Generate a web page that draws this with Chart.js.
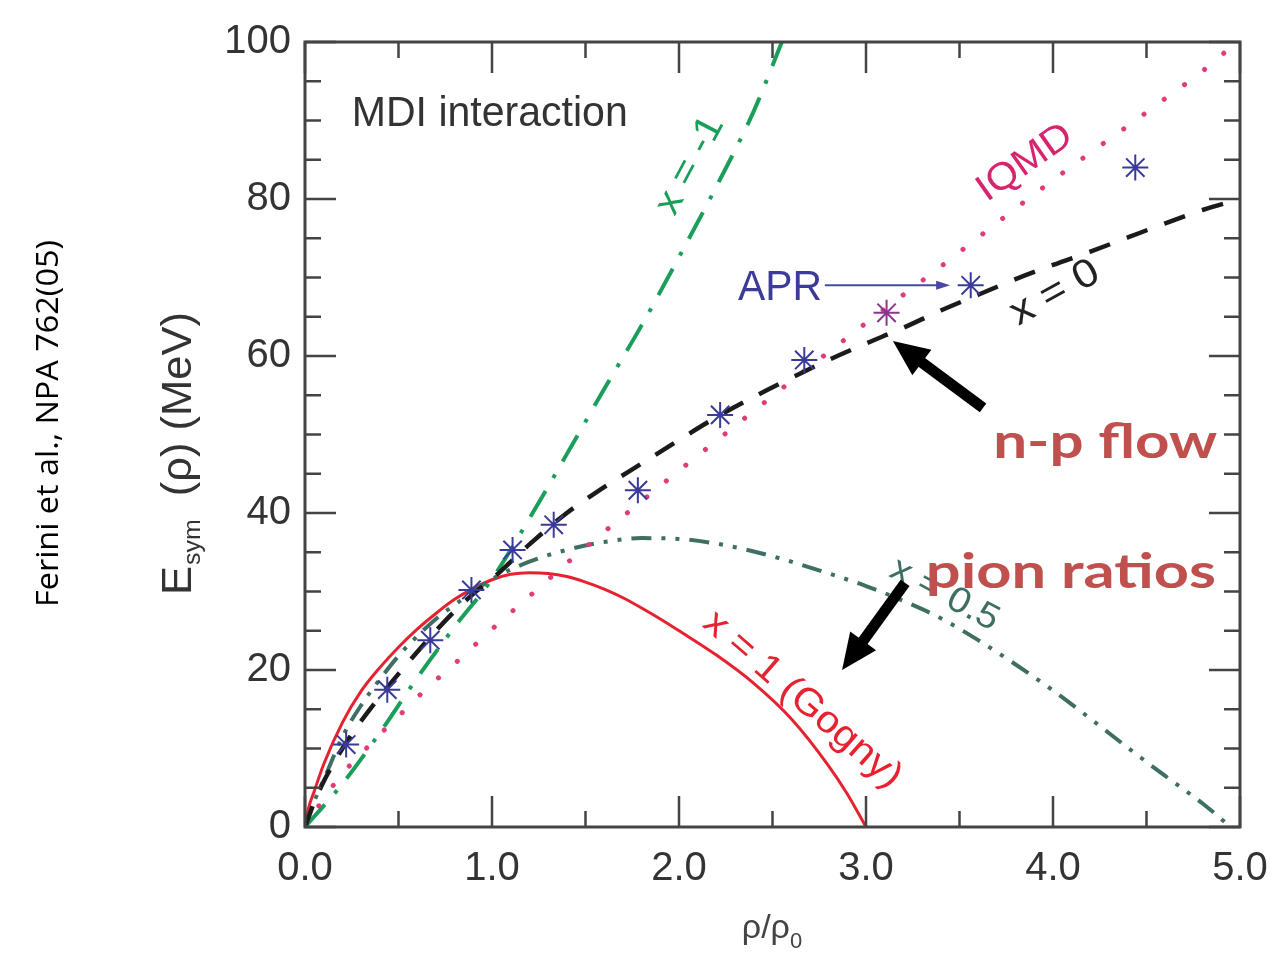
<!DOCTYPE html>
<html><head><meta charset="utf-8">
<script src="https://cdn.jsdelivr.net/npm/chart.js@4.4.1/dist/chart.umd.min.js"></script>
<style>html,body{margin:0;padding:0;background:#fff;overflow:hidden}canvas{display:block}</style>
</head><body>
<canvas id="c" width="1273" height="955"></canvas>
<script>
// ---- data ----
const xTickValues = [0, 1, 2, 3, 4, 5];
const yTickValues = [0, 20, 40, 60, 80, 100];

const xm1X = [0, 0.2, 0.4, 0.6, 0.8, 1.0, 1.2, 1.4, 1.6, 1.8, 2.0, 2.2, 2.4, 2.55];
const xm1Y = [0, 5.5, 12, 19, 25.5, 31.6, 39.3, 47.5, 55.8, 63.9, 72.6, 81.6, 91.2, 100];

const x0X = [0, 0.05, 0.1, 0.2, 0.3, 0.4, 0.5, 0.6, 0.7, 0.8, 0.9, 1.0, 1.2, 1.4, 1.6, 1.8, 2.0, 2.2, 2.4, 2.6, 2.8, 3.0, 3.2, 3.4, 3.6, 3.8, 4.0, 4.2, 4.4, 4.6, 4.8, 5.0];
const x0Y = [0, 3.2, 5.8, 10, 13.5, 16.6, 19.5, 22.3, 25, 27.5, 29.7, 31.6, 36, 40, 43.3, 46.3, 49.3, 52.2, 54.8, 57.2, 59.5, 61.6, 63.6, 65.8, 67.8, 69.8, 71.6, 73.3, 75.1, 76.9, 78.6, 80];

const xhX = [0, 0.05, 0.1, 0.2, 0.3, 0.4, 0.5, 0.6, 0.7, 0.8, 0.9, 1.0, 1.2, 1.4, 1.6, 1.8, 2.0, 2.2, 2.4, 2.6, 2.8, 3.0, 3.2, 3.4, 3.6, 3.8, 4.0, 4.2, 4.4, 4.6, 4.8, 4.95];
const xhY = [0, 3.3, 6, 11.5, 15.5, 18.8, 21.8, 24.3, 26.5, 28.3, 30, 31.6, 33.8, 35.3, 36.3, 36.8, 36.7, 36.1, 35.1, 33.8, 32.3, 30.7, 28.8, 26.6, 23.8, 20.7, 17.4, 13.8, 10.1, 6.5, 3, 0];

const gognyX = [0, 0.02, 0.05, 0.1, 0.2, 0.3, 0.4, 0.5, 0.6, 0.7, 0.8, 0.9, 1.0, 1.1, 1.2, 1.3, 1.4, 1.5, 1.6, 1.7, 1.8, 1.9, 2.0, 2.2, 2.4, 2.6, 2.8, 2.9, 3.0];
const gognyY = [0, 2.5, 4.6, 8, 13.3, 17.3, 20.3, 22.9, 25.2, 27.2, 29, 30.4, 31.5, 32.2, 32.4, 32.3, 31.9, 31.2, 30.3, 29.2, 27.9, 26.5, 25, 21.9, 18.3, 13.8, 7.8, 4.2, 0];

const iqmdX = [0, 0.1, 0.2, 0.3, 0.4, 0.5, 0.6, 0.7, 0.8, 0.9, 1.0, 1.2, 1.4, 1.6, 1.8, 2.0, 2.2, 2.4, 2.6, 2.8, 3.0, 3.2, 3.4, 3.6, 3.8, 4.0, 4.2, 4.4, 4.6, 4.8, 4.93];
const iqmdY = [0, 3.6, 6.8, 9.3, 11.8, 14.1, 16.5, 18.7, 20.8, 23.0, 25.2, 29.4, 33.6, 37.6, 41.5, 45.4, 49.2, 53.0, 56.8, 60.5, 64.2, 67.8, 71.4, 75.1, 78.8, 82.4, 85.9, 89.3, 92.8, 96.3, 98.9];

const aprX = [0.22, 0.44, 0.67, 0.89, 1.11, 1.33, 1.78, 2.22, 2.67, 3.11, 3.56, 4.44];
const aprY = [10.5, 17.5, 23.8, 30.2, 35.3, 38.5, 42.9, 52.5, 59.5, 65.5, 69.0, 84.0];

const zip = (xs, ys) => xs.map((x, i) => ({x, y: ys[i]}));

// ---- drawing helpers ----
function drawText(ctx, t, x, y, o) {
  ctx.save();
  ctx.translate(x, y);
  if (o.rot) ctx.rotate(o.rot * Math.PI / 180);
  ctx.font = o.font;
  ctx.fillStyle = o.color;
  ctx.textBaseline = o.baseline || 'alphabetic';
  ctx.textAlign = 'left';
  const w = ctx.measureText(t).width;
  const sx = o.width ? o.width / w : 1;
  ctx.scale(sx, 1);
  ctx.fillText(t, o.center ? -w / 2 : 0, 0);
  ctx.restore();
}
function arrow(ctx, x1, y1, x2, y2, sw, hl, hw, color) {
  const a = Math.atan2(y2 - y1, x2 - x1);
  const bx = x2 - hl * Math.cos(a), by = y2 - hl * Math.sin(a);
  ctx.save();
  ctx.strokeStyle = color; ctx.fillStyle = color; ctx.lineWidth = sw; ctx.lineCap = 'butt';
  ctx.beginPath(); ctx.moveTo(x1, y1); ctx.lineTo(bx + Math.cos(a), by + Math.sin(a)); ctx.stroke();
  ctx.beginPath(); ctx.moveTo(x2, y2);
  ctx.lineTo(bx + hw / 2 * Math.sin(a), by - hw / 2 * Math.cos(a));
  ctx.lineTo(bx - hw / 2 * Math.sin(a), by + hw / 2 * Math.cos(a));
  ctx.closePath(); ctx.fill();
  ctx.restore();
}

const decor = {
  id: 'decor',
  afterDatasetsDraw(chart) {
    const ctx = chart.ctx, xs = chart.scales.x, ys = chart.scales.y;
    const X = v => xs.getPixelForValue(v), Y = v => ys.getPixelForValue(v);
    const a = chart.chartArea;
    ctx.save();
    // frame
    ctx.strokeStyle = '#444'; ctx.lineWidth = 3;
    ctx.strokeRect(a.left, a.top, a.right - a.left, a.bottom - a.top);
    // inward ticks
    ctx.lineWidth = 2.5; ctx.beginPath();
    for (let v = 0; v <= 5.0001; v += 0.5) {
      const p = X(v), L = Math.abs(v - Math.round(v)) < 1e-6 ? 31 : 16;
      ctx.moveTo(p, a.bottom); ctx.lineTo(p, a.bottom - L);
      ctx.moveTo(p, a.top); ctx.lineTo(p, a.top + L);
    }
    for (let v = 0; v <= 100.001; v += 5) {
      const p = Y(v), L = (Math.round(v) % 20 === 0) ? 31 : 16;
      ctx.moveTo(a.left, p); ctx.lineTo(a.left + L, p);
      ctx.moveTo(a.right, p); ctx.lineTo(a.right - L, p);
    }
    ctx.stroke();
    ctx.restore();

    const sans = '"Liberation Sans", Arial, sans-serif';
    drawText(ctx, 'MDI interaction', X(0.25), Y(89.3), {font: '42px ' + sans, color: '#333', width: 276});
    drawText(ctx, 'APR', X(2.315), Y(67.1), {font: '42px ' + sans, color: '#3c3c98', width: 84});
    arrow(ctx, X(2.78), Y(69.0), X(3.45), Y(69.0), 2, 14, 9, '#4848a6');
    drawText(ctx, 'IQMD', X(3.85), Y(84.6), {font: '38px ' + sans, color: '#d6246e', width: 108, rot: -35, center: true, baseline: 'middle'});
    drawText(ctx, 'x = 0', X(4.01), Y(68.0), {font: '40px ' + sans, color: '#222', width: 96, rot: -29, center: true, baseline: 'middle'});
    drawText(ctx, 'x = -1', X(2.059), Y(84.3), {font: '38px ' + sans, color: '#1a9f5a', width: 106, rot: -62, center: true, baseline: 'middle'});
    drawText(ctx, 'x = 1 (Gogny)', X(2.66), Y(16.2), {font: '38px ' + sans, color: '#e62230', width: 250, rot: 41, center: true, baseline: 'middle'});
    drawText(ctx, 'x = 0.5', X(3.42), Y(29.6), {font: '36px ' + sans, color: '#3f6f63', width: 118, rot: 28, center: true, baseline: 'middle'});

    const bold = '700 48px Lato, "Open Sans", sans-serif';
    drawText(ctx, 'n-p flow', X(3.68), Y(47.0), {font: bold, color: '#c0504d', width: 224});
    drawText(ctx, 'pion ratios', X(3.32), Y(30.4), {font: bold, color: '#c0504d', width: 290});
    arrow(ctx, X(3.626), Y(53.4), X(3.144), Y(61.9), 11, 36, 32, '#000');
    arrow(ctx, X(3.209), Y(31.1), X(2.872), Y(20.0), 11, 36, 32, '#000');
  },
  afterDraw(chart) {
    const ctx = chart.ctx;
    const sans = '"Liberation Sans", Arial, sans-serif';
    // y axis title
    ctx.save();
    ctx.translate(191, 595);
    ctx.rotate(-Math.PI / 2);
    ctx.fillStyle = '#333';
    ctx.textBaseline = 'alphabetic';
    ctx.font = '42px ' + sans;
    const wE = ctx.measureText('E').width;
    ctx.font = '24px ' + sans;
    const wS = ctx.measureText('sym').width;
    ctx.font = '42px ' + sans;
    const rest = '  (\u03c1) (MeV)';
    const wR = ctx.measureText(rest).width;
    const sx = 283 / (wE + wS + wR);
    ctx.scale(sx, 1);
    ctx.fillText('E', 0, 0);
    ctx.font = '24px ' + sans;
    ctx.fillText('sym', wE + 1, 9);
    ctx.font = '42px ' + sans;
    ctx.fillText(rest, wE + wS, 0);
    ctx.restore();
    // x axis title
    ctx.save();
    ctx.fillStyle = '#444';
    ctx.font = '34px ' + sans;
    ctx.textBaseline = 'alphabetic';
    const t1 = '\u03c1/\u03c1';
    const w1 = ctx.measureText(t1).width;
    ctx.font = '22px ' + sans;
    const w2 = ctx.measureText('0').width;
    const x0 = 772 - (w1 + w2) / 2;
    ctx.font = '34px ' + sans;
    ctx.fillText(t1, x0, 938);
    ctx.font = '22px ' + sans;
    ctx.fillText('0', x0 + w1, 948);
    ctx.restore();
    // side caption
    drawText(ctx, 'Ferini et al., NPA 762(05)', 58, 607, {font: '31px "Open Sans", sans-serif', color: '#000', width: 367, rot: -90});
  }
};

const tickFont = {family: '"Liberation Sans", Arial, sans-serif', size: 40};

new Chart(document.getElementById('c'), {
  type: 'scatter',
  data: {
    datasets: [
      {label: 'APR', data: zip(aprX, aprY), showLine: false, pointStyle: 'star', pointRadius: 13, pointBorderWidth: 2,
       borderColor: aprX.map(x => Math.abs(x - 3.11) < 0.01 ? '#8a3590' : '#3a3a98'), backgroundColor: 'transparent'},
      {label: 'x=0', data: zip(x0X, x0Y), showLine: true, pointRadius: 0, borderColor: '#1b1b1b', borderWidth: 4.5, borderDash: [22, 18], cubicInterpolationMode: 'monotone'},
      {label: 'IQMD', data: zip(iqmdX, iqmdY), showLine: true, pointRadius: 0, borderColor: '#e23c78', borderWidth: 5, borderDash: [0.1, 25], borderCapStyle: 'round', cubicInterpolationMode: 'monotone'},
      {label: 'x=-1', data: zip(xm1X, xm1Y), showLine: true, pointRadius: 0, borderColor: '#1a9f5a', borderWidth: 4, borderDash: [30, 15, 4, 15], cubicInterpolationMode: 'monotone'},
      {label: 'x=0.5', data: zip(xhX, xhY), showLine: true, pointRadius: 0, borderColor: '#3f6f63', borderWidth: 4, borderDash: [20, 10, 4, 10, 4, 10], cubicInterpolationMode: 'monotone'},
      {label: 'x=1', data: zip(gognyX, gognyY), showLine: true, pointRadius: 0, borderColor: '#e62230', borderWidth: 3, cubicInterpolationMode: 'monotone'}
    ]
  },
  options: {
    responsive: false, animation: false, devicePixelRatio: 1,
    layout: {padding: {left: 0, right: 33, top: 42, bottom: 0}},
    plugins: {legend: {display: false}, tooltip: {enabled: false}},
    scales: {
      x: {type: 'linear', min: 0, max: 5,
        afterFit: s => { s.height = 128; s.paddingLeft = 0; s.paddingRight = 0; },
        afterBuildTicks: s => { s.ticks = xTickValues.map(v => ({value: v})); },
        grid: {display: false, drawTicks: false}, border: {display: false},
        ticks: {font: tickFont, color: '#333', padding: 18, maxRotation: 0, autoSkip: false, callback: v => Number(v).toFixed(1)}},
      y: {type: 'linear', min: 0, max: 100,
        afterFit: s => { s.width = 305; s.paddingTop = 0; s.paddingBottom = 0; },
        afterBuildTicks: s => { s.ticks = yTickValues.map(v => ({value: v})); },
        grid: {display: false, drawTicks: false}, border: {display: false},
        ticks: {font: tickFont, color: '#333', padding: 14, autoSkip: false, callback: v => String(v)}}
    }
  },
  plugins: [decor]
});
</script>
</body></html>
